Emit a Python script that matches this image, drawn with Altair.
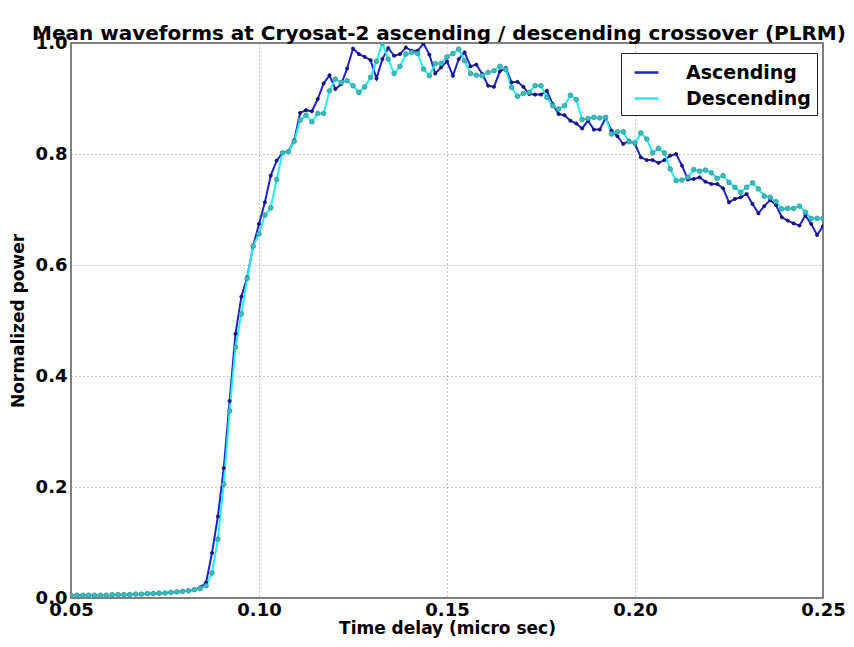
import altair as alt
import pandas as pd

t_start = 0.05
t_step = 0.0015625

ascending = [
    0.005, 0.005, 0.005, 0.005, 0.005, 0.005, 0.005, 0.005, 0.006, 0.006,
    0.006, 0.007, 0.007, 0.007, 0.008, 0.008, 0.009, 0.010, 0.011, 0.012,
    0.013, 0.015, 0.019, 0.028, 0.081, 0.147, 0.234, 0.355, 0.476, 0.543,
    0.578, 0.634, 0.674, 0.713, 0.761, 0.788, 0.802, 0.805, 0.825, 0.874,
    0.879, 0.877, 0.899, 0.927, 0.942, 0.917, 0.926, 0.954, 0.990, 0.980,
    0.975, 0.969, 0.936, 0.971, 0.991, 0.977, 0.980, 0.992, 0.986, 0.986,
    0.999, 0.979, 0.945, 0.956, 0.967, 0.941, 0.971, 0.983, 0.958, 0.961,
    0.944, 0.923, 0.921, 0.949, 0.955, 0.929, 0.930, 0.921, 0.908, 0.907,
    0.907, 0.914, 0.890, 0.872, 0.870, 0.860, 0.855, 0.846, 0.860, 0.844,
    0.844, 0.865, 0.842, 0.832, 0.818, 0.824, 0.818, 0.794, 0.789, 0.789,
    0.784, 0.789, 0.797, 0.800, 0.779, 0.754, 0.755, 0.758, 0.750, 0.746,
    0.746, 0.738, 0.713, 0.719, 0.722, 0.728, 0.710, 0.693, 0.706, 0.717,
    0.708, 0.686, 0.680, 0.675, 0.671, 0.689, 0.674, 0.654, 0.670,
]

descending = [
    0.005, 0.005, 0.005, 0.005, 0.005, 0.005, 0.005, 0.006, 0.006, 0.006,
    0.006, 0.007, 0.007, 0.008, 0.008, 0.009, 0.009, 0.010, 0.011, 0.012,
    0.013, 0.015, 0.017, 0.022, 0.045, 0.106, 0.205, 0.337, 0.452, 0.512,
    0.576, 0.634, 0.656, 0.690, 0.703, 0.754, 0.802, 0.804, 0.823, 0.861,
    0.870, 0.858, 0.873, 0.873, 0.914, 0.935, 0.929, 0.932, 0.923, 0.911,
    0.921, 0.938, 0.967, 1.000, 0.971, 0.945, 0.958, 0.980, 0.983, 0.981,
    0.953, 0.941, 0.963, 0.963, 0.975, 0.981, 0.989, 0.968, 0.945, 0.942,
    0.941, 0.947, 0.950, 0.958, 0.952, 0.920, 0.904, 0.909, 0.911, 0.923,
    0.923, 0.902, 0.887, 0.881, 0.887, 0.906, 0.898, 0.862, 0.864, 0.866,
    0.865, 0.866, 0.836, 0.840, 0.840, 0.822, 0.820, 0.838, 0.827, 0.802,
    0.810, 0.802, 0.773, 0.752, 0.753, 0.758, 0.772, 0.769, 0.771, 0.766,
    0.756, 0.761, 0.749, 0.740, 0.731, 0.740, 0.748, 0.737, 0.724, 0.722,
    0.714, 0.701, 0.702, 0.702, 0.706, 0.695, 0.684, 0.684, 0.684,
]

series_names = ["Ascending", "Descending"]
line_colors = ["#2121cc", "#22f0f0"]
marker_fill = ["#16168c", "#3cbcbc"]
marker_stroke = ["#10106a", "#2a9a9a"]
marker_size = [10, 22]

x_ticks = [0.05, 0.10, 0.15, 0.20, 0.25]
y_ticks = [0.0, 0.2, 0.4, 0.6, 0.8, 1.0]

rows = []
for name, vals in zip(series_names, [ascending, descending]):
    for i, v in enumerate(vals):
        rows.append({"time": t_start + i * t_step, "power": v, "series": name})
df = pd.DataFrame(rows)

FONT = "DejaVu Sans"

x_enc = alt.X(
    "time:Q",
    scale=alt.Scale(domain=[0.05, 0.25], nice=False, zero=False),
    axis=alt.Axis(
        values=x_ticks, format=".2f", title="Time delay (micro sec)",
        grid=True, gridDash=[1, 3], gridColor="#888888", gridOpacity=0.9,
        ticks=False, domain=False, labelPadding=3, titlePadding=1,
        labelFlush=False, labelOverlap=False, labelFontSize=18,
        titleFontSize=17,
    ),
)
y_enc = alt.Y(
    "power:Q",
    scale=alt.Scale(domain=[0, 1], nice=False),
    axis=alt.Axis(
        values=y_ticks, format=".1f", title="Normalized power",
        grid=True, gridDash=[1, 3], gridColor="#888888", gridOpacity=0.9,
        ticks=False, domain=False, labelPadding=4, titlePadding=8,
        labelFlush=False, labelOverlap=False, labelFontSize=18,
        titleFontSize=17,
    ),
)

base = alt.Chart(df)

lines = base.mark_line(strokeWidth=2, clip=True).encode(
    x=x_enc,
    y=y_enc,
    color=alt.Color(
        "series:N",
        scale=alt.Scale(domain=series_names, range=line_colors),
        legend=alt.Legend(
            title=None, symbolType="stroke", symbolSize=576,
            symbolStrokeWidth=2.5,
        ),
    ),
)

point_layers = []
for name, f, s, sz in zip(series_names, marker_fill, marker_stroke, marker_size):
    point_layers.append(
        base.transform_filter(alt.datum.series == name)
        .mark_point(filled=True, fill=f, stroke=s, strokeWidth=0.8,
                    size=sz, opacity=1, clip=True)
        .encode(x="time:Q", y="power:Q")
    )

chart = (
    alt.layer(lines, *point_layers)
    .properties(
        width=752,
        height=555,
        title=alt.TitleParams(
            "Mean waveforms at Cryosat-2 ascending / descending crossover (PLRM)",
            font=FONT, fontSize=20, fontWeight="bold", color="black",
            anchor="middle", offset=3, dx=-8, dy=13,
        ),
        autosize=alt.AutoSizeParams(type="none"),
        padding={"left": 63, "top": 35, "right": 23, "bottom": 41},
    )
    .configure_view(stroke="#555555", strokeWidth=1.5)
    .configure_axis(
        labelFont=FONT, labelFontWeight="bold", labelColor="black",
        titleFont=FONT, titleFontWeight="bold", titleColor="black",
    )
    .configure_legend(
        orient="none", legendX=550, legendY=10,
        strokeColor="#222222", strokeWidth=1, fillColor="white",
        padding=6, rowPadding=2, symbolOffset=6,
        labelFont=FONT, labelFontSize=19, labelFontWeight="bold", labelColor="black",
        labelOffset=26,
    )
)

chart.save("out.html", embed_options={"renderer": "svg", "actions": False})
